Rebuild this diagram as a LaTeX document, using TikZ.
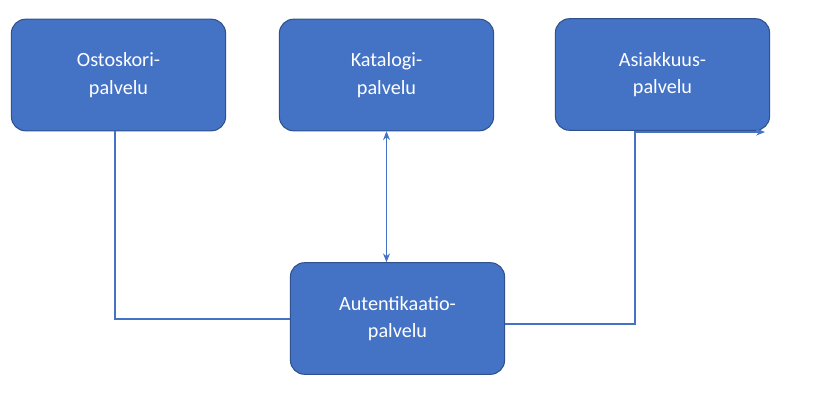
\documentclass[tikz,border=0pt]{standalone}
\usepackage{fontspec}
\setmainfont{Carlito}
\usetikzlibrary{arrows.meta}
\definecolor{boxfill}{HTML}{4472C4}
\definecolor{boxline}{HTML}{2F528F}
\tikzset{svc/.style={draw=boxline,fill=boxfill,rounded corners=8pt,minimum width=215*0.567pt,minimum height=112*0.567pt,text=white,align=center,font=\fontsize{11.5}{15.5}\selectfont,line width=0.6pt},
conn/.style={draw=boxfill,line width=0.6pt}}
\begin{document}
\begin{tikzpicture}[x=0.02cm,y=-0.02cm]
\useasboundingbox (0,0) rectangle (826,413);
\node[svc] (a) at (118.5,75) {Ostoskori-\\palvelu};
\node[svc] (b) at (386.5,75) {Katalogi-\\palvelu};
\node[svc] (c) at (662.5,74.5) {Asiakkuus-\\palvelu};
\node[svc] (d) at (397.5,318.5) {Autentikaatio-\\palvelu};
\coordinate (e) at (765,132);
\draw[conn] (a.south -| 115,0) |- (d.west |- 0,319);
\draw[conn,{Stealth[length=5pt,width=4pt]}-{Stealth[length=5pt,width=4pt]}] (b.south) -- (d.north -| b.south);
\draw[conn,-{Stealth[length=5pt,width=4pt]}] (d.east |- 0,324) -| (635,132) -- (e);
\end{tikzpicture}
\end{document}
